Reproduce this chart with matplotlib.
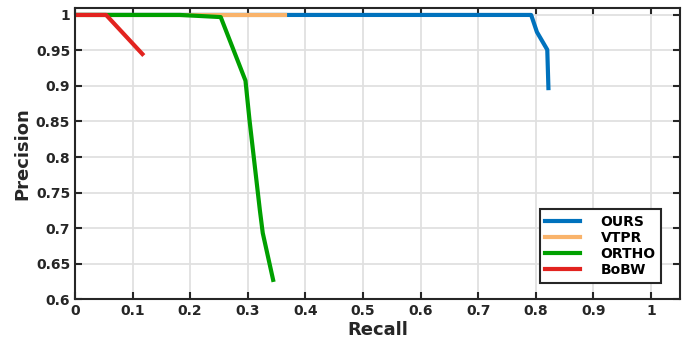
import numpy as np
import matplotlib.pyplot as plt
from matplotlib.ticker import FuncFormatter

# -- precision / recall curves --
ours_r = [0.0, 0.792, 0.802, 0.820, 0.822]
ours_p = [1.0, 1.0, 0.976, 0.951, 0.897]

vtpr_r = [0.0, 0.364]
vtpr_p = [1.0, 1.0]

ortho_r = [0.0, 0.182, 0.253, 0.296, 0.303, 0.321, 0.326, 0.344]
ortho_p = [1.0, 1.0, 0.997, 0.9075, 0.852, 0.725, 0.693, 0.627]

bobw_r = [0.0, 0.054, 0.117]
bobw_p = [1.0, 1.0, 0.945]

names = ['OURS', 'VTPR', 'ORTHO', 'BoBW']
colors = ['#0072BD', '#F9B36B', '#00A000', '#E2231F']

plt.rcParams['font.family'] = 'DejaVu Sans'
plt.rcParams['font.weight'] = 'bold'

fig = plt.figure(figsize=(6.88, 3.41), dpi=100)
ax = fig.add_axes([0.109, 0.123, 0.879, 0.854])

curves = [(ours_r, ours_p), (vtpr_r, vtpr_p), (ortho_r, ortho_p), (bobw_r, bobw_p)]
for (r, p), name, c in zip(curves, names, colors):
    ax.plot(r, p, color=c, lw=3, label=name)

ax.set_xlim(0, 1.05)
ax.set_ylim(0.6, 1.01)
ax.set_xticks(np.arange(0, 1.01, 0.1))
ax.set_yticks(np.arange(0.6, 1.001, 0.05))
fmt = FuncFormatter(lambda v, pos: '%g' % round(v, 2))
ax.xaxis.set_major_formatter(fmt)
ax.yaxis.set_major_formatter(fmt)

ax.grid(True, color='#e0e0e0', lw=1.3)
ax.set_axisbelow(True)
ax.tick_params(direction='in', top=True, right=True, length=5, width=1.5,
               labelsize=10, colors='#262626')
for lab in ax.get_xticklabels() + ax.get_yticklabels():
    lab.set_fontweight('bold')
for s in ax.spines.values():
    s.set_linewidth(1.5)
    s.set_color('#262626')

ax.set_xlabel('Recall', fontsize=13, fontweight='bold', color='#262626', labelpad=2)
ax.set_ylabel('Precision', fontsize=13, fontweight='bold', color='#262626', labelpad=3)

leg = ax.legend(loc='lower right', bbox_to_anchor=(0.981, 0.033), fancybox=False,
                framealpha=1, edgecolor='#262626', handlelength=2.5,
                borderpad=0.4, labelspacing=0.15, handletextpad=1.5,
                prop={'weight': 'bold', 'size': 10})
leg.get_frame().set_linewidth(1.5)

fig.savefig('out.png', dpi=100)
